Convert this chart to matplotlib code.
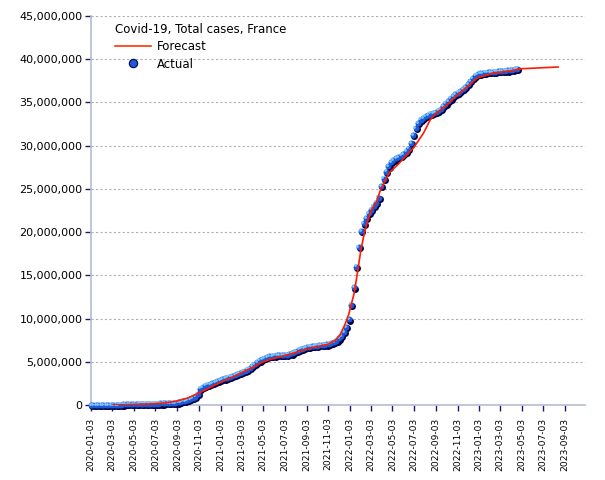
import numpy as np
import matplotlib
matplotlib.use('Agg')
import matplotlib.pyplot as plt
import matplotlib.transforms as mtransforms
from matplotlib.lines import Line2D
from matplotlib.ticker import FuncFormatter

# weekly actual totals (millions), first week 2020-01-03
actual_start = '2020-01-03'
actual_values = [
    0.0, 0.0, 0.0, 0.0, 0.0, 0.0, 0.0, 0.0, 0.0, 0.0006,
    0.004, 0.012, 0.033, 0.065, 0.087, 0.11, 0.12, 0.13, 0.138, 0.142,
    0.145, 0.15, 0.153, 0.156, 0.159, 0.162, 0.166, 0.171, 0.176, 0.183,
    0.19, 0.2, 0.215, 0.235, 0.26, 0.3, 0.35, 0.42, 0.49, 0.57,
    0.67, 0.8, 0.98, 1.3, 1.9, 2.1, 2.25, 2.35, 2.45, 2.55,
    2.65, 2.75, 2.85, 2.97, 3.07, 3.17, 3.27, 3.37, 3.47, 3.58,
    3.7, 3.82, 3.95, 4.1, 4.3, 4.5, 4.75, 4.98, 5.15, 5.3,
    5.45, 5.55, 5.63, 5.68, 5.72, 5.75, 5.77, 5.79, 5.8, 5.83,
    5.88, 5.97, 6.1, 6.25, 6.4, 6.52, 6.62, 6.7, 6.75, 6.8,
    6.84, 6.87, 6.9, 6.93, 6.97, 7.0, 7.05, 7.13, 7.25, 7.45,
    7.7, 8.0, 8.4, 9.0, 9.9, 11.6, 13.6, 16.0, 18.3, 20.1,
    21.0, 21.6, 22.2, 22.6, 23.0, 23.4, 24.0, 25.3, 26.2, 27.0,
    27.6, 28.1, 28.35, 28.55, 28.7, 28.85, 29.05, 29.3, 29.65, 30.3,
    31.2, 32.0, 32.6, 33.0, 33.2, 33.4, 33.55, 33.7, 33.8, 33.9,
    34.05, 34.25, 34.55, 34.85, 35.15, 35.45, 35.75, 35.95, 36.15, 36.35,
    36.55, 36.8, 37.15, 37.5, 37.85, 38.1, 38.25, 38.35, 38.42, 38.46,
    38.5, 38.52, 38.55, 38.57, 38.6, 38.62, 38.65, 38.68, 38.7, 38.74,
    38.78, 38.84, 38.9,
]

forecast_dates = [
    '2020-03-03', '2020-04-15', '2020-06-01', '2020-07-01', '2020-08-01',
    '2020-09-01', '2020-10-01', '2020-11-01', '2020-12-01', '2021-01-01',
    '2021-02-01', '2021-03-01', '2021-04-01', '2021-05-01', '2021-06-01',
    '2021-07-01', '2021-08-01', '2021-09-01', '2021-10-01', '2021-11-01',
    '2021-11-22', '2021-12-06', '2021-12-20', '2021-12-31', '2022-01-08',
    '2022-01-15', '2022-01-24', '2022-02-03', '2022-02-13', '2022-02-23',
    '2022-03-05', '2022-03-19', '2022-03-29', '2022-04-13', '2022-04-27',
    '2022-05-16', '2022-07-01', '2022-07-30', '2022-08-18', '2022-09-05',
    '2022-10-03', '2022-11-09', '2022-12-17', '2022-12-27', '2023-02-11',
    '2023-03-31', '2023-05-03', '2023-06-23', '2023-08-14',
]
forecast_values = [
    0.0, 0.05, 0.1, 0.15, 0.25,
    0.45, 0.8, 1.35, 1.95, 2.6,
    3.15, 3.7, 4.3, 4.95, 5.4,
    5.7, 6.05, 6.45, 6.75, 7.0,
    7.45, 8.1, 9.3, 10.5, 11.8,
    12.9, 15.2, 17.9, 19.9, 21.4,
    22.6, 23.5, 24.7, 26.0, 27.0,
    27.7, 29.7, 31.45, 33.0, 33.8,
    34.7, 36.1, 37.4, 37.8, 38.4,
    38.65, 38.9, 39.0, 39.1,
]

tick_dates = [
    '2020-01-03', '2020-03-03', '2020-05-03', '2020-07-03', '2020-09-03',
    '2020-11-03', '2021-01-03', '2021-03-03', '2021-05-03', '2021-07-03',
    '2021-09-03', '2021-11-03', '2022-01-03', '2022-03-03', '2022-05-03',
    '2022-07-03', '2022-09-03', '2022-11-03', '2023-01-03', '2023-03-03',
    '2023-05-03', '2023-07-03', '2023-09-03',
]

title = 'Covid-19, Total cases, France'

plt.rcParams['font.family'] = 'DejaVu Sans'

act_x = np.datetime64(actual_start) + np.arange(len(actual_values)) * np.timedelta64(7, 'D')
act_y = np.array(actual_values) * 1e6
fc_x = np.array(forecast_dates, dtype='datetime64[D]')
fc_y = np.array(forecast_values) * 1e6

fig = plt.figure(figsize=(6.05, 4.8), dpi=100)
ax = fig.add_axes([91 / 605, 75 / 480, 494 / 605, 389 / 480])

axis_col = '#b4bccf'
tick_col = '#1a1a66'

# sphere-like markers: dark shadow, blue body, light highlight
shadow = mtransforms.offset_copy(ax.transData, fig=fig, x=0.8, y=-0.8, units='points')
light = mtransforms.offset_copy(ax.transData, fig=fig, x=-0.9, y=0.9, units='points')
ax.plot(act_x, act_y, 'o', ms=5.0, color='#000040', mec='none', transform=shadow, clip_on=False, zorder=3)
ax.plot(act_x, act_y, 'o', ms=4.3, color='#1d5ad8', mec='none', clip_on=False, zorder=4)
ax.plot(act_x, act_y, 'o', ms=2.0, color='#7cc8ff', mec='none', transform=light, clip_on=False, zorder=5)

ax.plot(fc_x, fc_y, '-', color='#ff1a00', lw=1.2, zorder=6)

ax.set_xlim(np.datetime64('2020-01-03'), np.datetime64('2023-10-29'))
ax.set_ylim(0, 45e6)
ax.set_yticks(np.arange(0, 45e6 + 1, 5e6))
ax.yaxis.set_major_formatter(FuncFormatter(lambda v, p: f'{int(v):,}'))

ticks = np.array(tick_dates, dtype='datetime64[D]')
ax.set_xticks(ticks)
ax.set_xticklabels(tick_dates, rotation=90, fontsize=6.6)
ax.tick_params(axis='y', labelsize=8, length=4, width=1, color=tick_col, pad=2)
ax.tick_params(axis='x', length=4, width=1, color=tick_col, pad=5)

ax.grid(axis='y', linestyle=(0, (2, 2)), color='#b0b0b0', lw=0.8)
ax.set_axisbelow(True)
for s in ['top', 'right']:
    ax.spines[s].set_visible(False)
for s in ['left', 'bottom']:
    ax.spines[s].set_color(axis_col)
    ax.spines[s].set_linewidth(1.2)

h_fc = Line2D([], [], color='#ff3300', lw=1.2)
h_act = Line2D([], [], marker='o', ms=6, ls='none', color='#1d5ad8', mec='#000050', mew=0.8)
leg = ax.legend([h_fc, h_act], ['Forecast', 'Actual'], title=title, loc='upper left',
                frameon=False, fontsize=8.5, title_fontsize=8.5, handlelength=3.0,
                handletextpad=0.5, borderaxespad=0.0, labelspacing=0.4,
                bbox_to_anchor=(0.04, 0.995))
leg._legend_box.align = 'left'
leg._legend_box.sep = 3

fig.savefig('out.png', dpi=100)
